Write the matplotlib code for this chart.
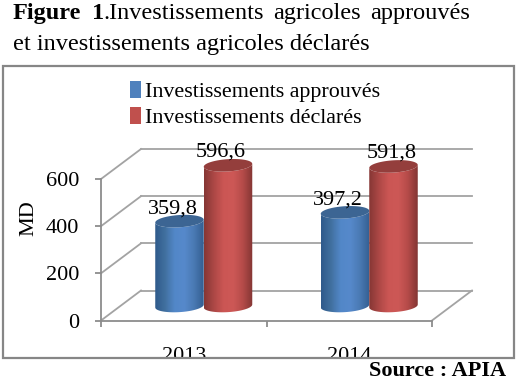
import numpy as np
import matplotlib
matplotlib.use("Agg")
import matplotlib.pyplot as plt
from matplotlib.patches import Rectangle, Patch, Polygon
from matplotlib.colors import LinearSegmentedColormap
from matplotlib.transforms import Affine2D, Bbox

years = ["2013", "2014"]
series_names = ["Investissements approuvés", "Investissements déclarés"]
approuves = [359.8, 397.2]
declares = [596.6, 591.8]
y_ticks = [0, 200, 400, 600]

W, H = 518, 381
plt.rcParams["font.family"] = ["Liberation Serif", "DejaVu Serif"]
fig = plt.figure(figsize=(W / 100, H / 100), dpi=100, facecolor="white")


def px(x, y):
    return x / W, 1 - y / H


# front plane of the 3d box
left, right, top, bottom = 101, 432, 179, 320.5
ax = fig.add_axes([left / W, 1 - bottom / H, (right - left) / W, (bottom - top) / H])
ax.set_xlim(-0.5, 1.5)
ax.set_ylim(0, 600)
ax.patch.set_visible(False)
for s in ["top", "right"]:
    ax.spines[s].set_visible(False)
for s in ["left", "bottom"]:
    ax.spines[s].set_color("#8c8c8c")
    ax.spines[s].set_linewidth(1.3)

grey = "#a3a3a3"
ax.set_yticks(y_ticks)
ax.tick_params(axis="y", length=4.5, width=1.3, color="#8c8c8c", labelsize=16, pad=11)
ax.set_xticks([-0.5, 0.5, 1.5])
ax.set_xticklabels([])
ax.tick_params(axis="x", which="major", length=4, width=1.3, color="#8c8c8c")
ax.set_xticks([0, 1], minor=True)
ax.set_xticklabels(years, minor=True, fontsize=16)
ax.tick_params(axis="x", which="minor", length=0, pad=19)
clip = Bbox.from_extents(0, H - 357, W, H)
for lab in ax.get_xticklabels(minor=True):
    lab.set_clip_box(clip)
    lab.set_clip_on(True)
ax.set_ylabel("MD", fontsize=16)
ax.yaxis.set_label_coords(-0.19, 0.72)

# depth lines and back wall
back_tr = ax.transData + Affine2D().translate(40, 30)
mid_tr = ax.transData + Affine2D().translate(20, 14.5)
for v in y_ticks:
    ax.plot([-0.5, 1.5], [v, v], color=grey, lw=1.3, transform=back_tr, clip_on=False, zorder=1)
    x0, y0 = ax.transData.transform((-0.5, v))
    ax.plot([x0, x0 + 40], [y0, y0 + 30], color=grey, lw=1.3,
            transform=None, clip_on=False, zorder=1)
x0, y0 = ax.transData.transform((1.5, 0))
ax.plot([x0, x0 + 40], [y0, y0 + 30], color=grey, lw=1.3, transform=None, clip_on=False, zorder=1)

blue_cm = LinearSegmentedColormap.from_list("b", ["#2f5a8b", "#41709f", "#5287c8", "#5689cb", "#4a7ab4", "#345f92"])
red_cm = LinearSegmentedColormap.from_list("r", ["#863735", "#ad4846", "#cb5654", "#cd5856", "#b54b49", "#843634"])
bar_w = 48.5 / 165.5
ell_h = 26.0  # half height of the ellipses in value units
tilt = 0.06 * (1 / 0.235) * 165.5


def cylinder(xc, v, cmap, cap, z):
    a = bar_w / 2
    t = np.linspace(np.pi, 2 * np.pi, 40)
    xs = xc + a * np.cos(t)
    low = ell_h * np.sin(t) + tilt * (xs - xc)
    t2 = t[::-1]
    xs2 = xc + a * np.cos(t2)
    up = v + ell_h * np.sin(t2) + tilt * (xs2 - xc)
    pts = np.column_stack([np.r_[xs, xs2], np.r_[low, up]])
    body = Polygon(pts, closed=True, transform=mid_tr, fc="none", ec="none", zorder=z)
    ax.add_patch(body)
    body.set_clip_on(False)
    grad = np.linspace(0, 1, 64).reshape(1, -1)
    im = ax.imshow(grad, cmap=cmap, aspect="auto", extent=(xc - a, xc + a, -100, v + 100),
                   transform=mid_tr, zorder=z)
    im.set_clip_box(fig.bbox)
    im.set_clip_path(body)
    tt = np.linspace(0, 2 * np.pi, 80)
    xt = xc + a * np.cos(tt)
    yt = v + ell_h * np.sin(tt) + tilt * (xt - xc)
    ax.add_patch(Polygon(np.column_stack([xt, yt]), closed=True, transform=mid_tr,
                         fc=cap, ec="none", zorder=z + 0.1, clip_on=False))


label_off = [[(-7, 8), (-7.5, 8.5)], [(-7, 8), (-1.5, 9)]]
for i in range(len(years)):
    cylinder(i - bar_w / 2, approuves[i], blue_cm, "#3c6593", 3)
    cylinder(i + bar_w / 2, declares[i], red_cm, "#943e3c", 4)
    for j, (vals, xc) in enumerate([(approuves, i - bar_w / 2), (declares, i + bar_w / 2)]):
        dx, dy = label_off[i][j]
        ax.annotate(f"{vals[i]:.1f}".replace(".", ","), xy=(xc, vals[i]), xycoords=mid_tr,
                    xytext=(dx * 0.72, dy * 0.72), textcoords="offset points",
                    ha="center", va="baseline", fontsize=16, zorder=6)
ax.set_xlim(-0.5, 1.5)
ax.set_ylim(0, 600)

handles = [Patch(fc="#4f81bd", ec="none"), Patch(fc="#c0504d", ec="none")]
fig.legend(handles, series_names, loc="upper left", bbox_to_anchor=px(130, 81), frameon=False,
           borderpad=0, borderaxespad=0, fontsize=15.8, handlelength=0.5, handleheight=0.8,
           handletextpad=0.2, labelspacing=0.22)

# outer frame
fig.add_artist(Rectangle(px(3, 358), 511 / W, 292 / H, transform=fig.transFigure, fill=False,
                         ec="#868686", lw=1.6))

# title, justified by hand like in the document
line1 = [("Figure", 13, "bold"), ("1", 92, "bold"), (".Investissements", 103, "normal"),
         ("agricoles", 273, "normal"), ("approuvés", 370, "normal")]
for word, x, w in line1:
    fig.text(*px(x, 19), word, fontsize=17.5, fontweight=w, va="baseline")
fig.text(*px(13, 50), "et investissements agricoles déclarés", fontsize=17.5, va="baseline")
fig.text(*px(369, 376), "Source : APIA", fontsize=16, fontweight="bold", va="baseline")

fig.savefig("out.png", dpi=100)
